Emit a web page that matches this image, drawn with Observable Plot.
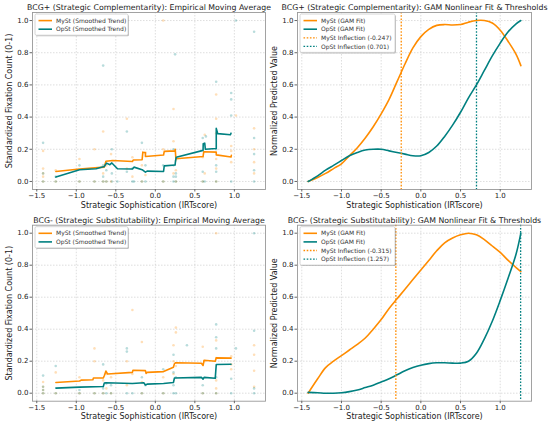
<!DOCTYPE html>
<html><head><meta charset="utf-8">
<script src="https://cdn.jsdelivr.net/npm/d3@7"></script>
<script src="https://cdn.jsdelivr.net/npm/@observablehq/plot@0.6"></script>
<style>
body{margin:0;background:#fff;}
#root{position:relative;width:550px;height:423px;overflow:hidden;font-family:"DejaVu Sans",sans-serif;}
#root svg{position:absolute;}
</style></head><body><div id="root"></div>
<script>
// ---------- data ----------
const xTicks = [-1.5, -1.0, -0.5, 0.0, 0.5, 1.0];
const yTicks = [0.0, 0.2, 0.4, 0.6, 0.8, 1.0];
const xLabel = "Strategic Sophistication (IRTscore)";

// BCG+ empirical scatter
const plusMyStPoints = [[-1.42,0.19],[-1.42,0.08],[-1.42,0.05],[-1.42,0.03],[-1.42,0.0],[-1.26,0.07],[-1.26,0.0],[-0.96,0.14],[-0.96,0.0],[-0.77,0.2],[-0.77,0.0],[-0.66,0.31],[-0.66,0.05],[-0.66,0.0],[-0.62,0.1],[-0.62,0.0],[-0.56,0.17],[-0.56,0.0],[-0.36,0.39],[-0.36,0.08],[-0.29,0.15],[-0.29,0.03],[-0.17,0.1],[-0.17,0.0],[-0.125,0.18],[-0.125,0.04],[0.1,1.0],[0.1,0.2],[0.1,0.0],[0.23,0.45],[0.23,0.25],[0.23,0.05],[0.26,0.13],[0.26,0.07],[0.26,0.0],[0.6,0.15],[0.6,0.0],[0.625,0.29],[0.625,0.05],[0.77,0.54],[0.77,0.39],[0.77,0.3],[0.77,0.14],[0.77,0.08],[0.77,0.0],[0.96,0.22],[0.96,0.19],[0.96,0.12],[1.02,0.41],[1.25,0.33],[1.25,0.2],[1.25,0.12],[1.25,0.05]];
const plusOpStPoints = [[-1.42,0.24],[-1.42,0.05],[-1.42,0.0],[-1.26,0.03],[-1.26,0.0],[-0.96,0.1],[-0.96,0.0],[-0.77,0.0],[-0.66,0.72],[-0.66,0.1],[-0.66,0.03],[-0.66,0.0],[-0.62,0.07],[-0.62,0.0],[-0.55,0.2],[-0.55,0.05],[-0.55,0.0],[-0.48,0.0],[-0.36,0.31],[-0.36,0.06],[-0.29,0.08],[-0.29,0.0],[-0.27,0.0],[-0.17,0.24],[-0.17,0.0],[-0.125,0.1],[-0.125,0.0],[0.1,0.1],[0.1,0.0],[0.25,0.79],[0.23,0.2],[0.23,0.1],[0.23,0.03],[0.23,0.0],[0.26,0.05],[0.26,0.03],[0.26,0.0],[0.6,0.27],[0.6,0.06],[0.6,0.0],[0.64,0.28],[0.625,0.0],[0.77,0.62],[0.77,0.2],[0.77,0.1],[0.77,0.06],[0.77,0.0],[0.96,0.55],[0.96,0.51],[0.96,0.41],[0.96,0.0],[1.02,1.0],[1.25,0.93],[1.25,0.27],[1.25,0.17],[1.25,0.07],[1.25,0.0]];
// BCG+ moving averages
const plusMyStTrend = [[-1.258,0.062],[-0.958,0.077],[-0.646,0.089],[-0.625,0.126],[-0.54,0.13],[-0.29,0.124],[-0.28,0.133],[-0.167,0.135],[-0.158,0.182],[-0.125,0.178],[-0.125,0.155],[0.104,0.164],[0.113,0.187],[0.25,0.19],[0.252,0.2],[0.26,0.141],[0.604,0.155],[0.613,0.185],[0.771,0.182],[0.771,0.165],[0.958,0.152],[0.962,0.162]];
const plusOpStTrend = [[-1.258,0.027],[-0.958,0.073],[-0.75,0.079],[-0.646,0.093],[-0.617,0.114],[-0.575,0.104],[-0.55,0.115],[-0.479,0.079],[-0.29,0.077],[-0.27,0.089],[-0.167,0.073],[-0.125,0.058],[-0.104,0.064],[0.104,0.062],[0.113,0.097],[0.25,0.102],[0.255,0.125],[0.265,0.151],[0.604,0.193],[0.606,0.234],[0.625,0.238],[0.633,0.2],[0.771,0.205],[0.771,0.33],[0.79,0.297],[0.95,0.29],[0.958,0.3]];

// BCG- empirical scatter
const minusMyStPoints = [[-1.42,0.07],[-1.42,0.04],[-1.42,0.02],[-1.42,0.0],[-1.26,0.13],[-1.26,0.0],[-0.96,0.1],[-0.96,0.0],[-0.77,0.28],[-0.77,0.2],[-0.77,0.0],[-0.66,0.08],[-0.66,0.0],[-0.62,0.12],[-0.62,0.03],[-0.56,0.1],[-0.56,0.0],[-0.36,0.2],[-0.36,0.05],[-0.29,0.52],[-0.29,0.12],[-0.17,0.32],[-0.17,0.07],[-0.17,0.0],[0.1,0.1],[0.1,0.0],[0.23,0.3],[0.23,0.2],[0.23,0.12],[0.26,0.41],[0.26,0.38],[0.26,0.17],[0.6,0.29],[0.6,0.0],[0.625,0.2],[0.77,1.0],[0.77,0.33],[0.77,0.22],[0.77,0.08],[0.77,0.03],[0.77,0.0],[0.96,0.23],[0.96,0.18],[0.96,0.15],[1.25,0.3],[1.25,0.24],[1.25,0.14],[1.25,0.04]];
const minusOpStPoints = [[-1.42,0.11],[-1.42,0.04],[-1.42,0.02],[-1.42,0.0],[-1.26,0.17],[-1.26,0.0],[-0.96,0.02],[-0.96,0.0],[-0.77,0.0],[-0.66,0.18],[-0.66,0.03],[-0.66,0.0],[-0.62,0.06],[-0.62,0.0],[-0.56,0.05],[-0.56,0.0],[-0.36,0.28],[-0.36,0.26],[-0.36,0.0],[-0.29,0.0],[-0.17,0.1],[-0.17,0.0],[-0.125,0.05],[0.1,0.15],[0.1,0.0],[0.23,0.24],[0.23,0.13],[0.23,0.05],[0.23,0.0],[0.26,0.1],[0.26,0.0],[0.4,0.3],[0.6,0.05],[0.6,0.0],[0.77,0.43],[0.77,0.35],[0.77,0.28],[0.77,0.1],[0.77,0.0],[0.96,0.09],[0.96,0.0],[1.02,0.28],[1.25,1.0],[1.25,0.39],[1.25,0.03],[1.25,0.0]];
// BCG- moving averages
const minusMyStTrend = [[-1.258,0.067],[-0.958,0.076],[-0.938,0.082],[-0.79,0.084],[-0.783,0.095],[-0.658,0.095],[-0.646,0.109],[-0.625,0.138],[-0.604,0.12],[-0.29,0.13],[-0.283,0.143],[-0.125,0.141],[-0.117,0.124],[-0.104,0.13],[0.104,0.135],[0.229,0.162],[0.242,0.185],[0.258,0.19],[0.583,0.187],[0.604,0.173],[0.617,0.206],[0.758,0.2],[0.771,0.221],[0.958,0.219]];
const minusOpStTrend = [[-1.258,0.032],[-0.958,0.038],[-0.658,0.042],[-0.646,0.063],[-0.625,0.065],[-0.29,0.061],[-0.146,0.065],[-0.125,0.051],[-0.104,0.057],[0.104,0.061],[0.229,0.067],[0.242,0.095],[0.583,0.099],[0.604,0.088],[0.617,0.099],[0.758,0.093],[0.771,0.179],[0.958,0.181]];

// GAM fits (normalized)
const gamX = [-1.42,-1.3,-1.2,-1.1,-1.0,-0.9,-0.8,-0.7,-0.6,-0.5,-0.4,-0.3,-0.2,-0.1,0.0,0.1,0.2,0.3,0.4,0.5,0.6,0.7,0.8,0.9,1.0,1.1,1.2,1.26];
const plusMyStGam = [0.0,0.025,0.05,0.08,0.11,0.16,0.21,0.27,0.34,0.42,0.51,0.62,0.73,0.83,0.9,0.945,0.97,0.975,0.972,0.975,0.99,1.0,1.0,0.985,0.94,0.87,0.79,0.72];
const plusOpStGam = [0.0,0.035,0.07,0.1,0.13,0.16,0.18,0.195,0.2,0.2,0.19,0.18,0.17,0.16,0.16,0.18,0.22,0.28,0.35,0.43,0.52,0.6,0.69,0.78,0.86,0.93,0.98,1.0];
const minusMyStGam = [0.0,0.09,0.16,0.2,0.235,0.27,0.305,0.345,0.4,0.46,0.53,0.59,0.65,0.71,0.77,0.83,0.89,0.94,0.97,0.99,1.0,0.99,0.96,0.92,0.88,0.83,0.785,0.76];
const minusOpStGam = [0.005,0.003,0.0,0.0,0.003,0.01,0.02,0.035,0.05,0.07,0.09,0.115,0.14,0.16,0.175,0.185,0.19,0.19,0.188,0.188,0.2,0.25,0.34,0.45,0.58,0.72,0.87,1.0];
const plusInflection = {MySt: -0.247, OpSt: 0.701};
const minusInflection = {MySt: -0.315, OpSt: 1.257};

// ---------- drawing ----------
const ORANGE = "#ff8c00", TEAL = "#008080";
const FONT = "DejaVu Sans";
const root = document.getElementById("root");

function legendMark(items, w) {
  return (index, scales, values, dim) => {
    const g = d3.create("svg:g")
      .attr("transform", `translate(${dim.marginLeft + 3},${dim.marginTop + 2})`);
    const rowH = 8.6;
    const h = items.length * rowH + 4;
    g.append("rect").attr("x", 1).attr("y", 1).attr("width", w).attr("height", h)
      .attr("fill", "#000").attr("fill-opacity", 0.25).attr("rx", 1.5);
    g.append("rect").attr("width", w).attr("height", h).attr("fill", "#fff")
      .attr("stroke", "#ccc").attr("stroke-width", 0.8).attr("rx", 1.5);
    items.forEach((it, i) => {
      const cy = 2.3 + rowH * (i + 0.5);
      g.append("line").attr("x1", 3.5).attr("x2", 17).attr("y1", cy).attr("y2", cy)
        .attr("stroke", it.color).attr("stroke-width", it.dash ? 1.3 : 1.6)
        .attr("stroke-dasharray", it.dash || null);
      g.append("text").attr("x", 21).attr("y", cy).attr("dy", "0.35em")
        .attr("text-anchor", "start")
        .attr("font-size", 6).attr("font-family", FONT).attr("fill", "#333").text(it.label);
    });
    return g.node();
  };
}

function panel({left, top, height, ml, mr, mt, mb, title, ylabel, marks, legend, legendW}) {
  const chart = Plot.plot({
    width: 275, height, marginLeft: ml, marginRight: mr, marginTop: mt, marginBottom: mb,
    style: {fontFamily: FONT, color: "#222", background: "transparent", overflow: "visible"},
    x: {domain: [-1.554, 1.394]},
    y: {domain: [-0.05, 1.05]},
    marks: [
      Plot.gridX(xTicks, {stroke: "#bbb", strokeOpacity: 0.7, strokeDasharray: "1.5,1.5", strokeWidth: 0.7}),
      Plot.gridY(yTicks, {stroke: "#bbb", strokeOpacity: 0.7, strokeDasharray: "1.5,1.5", strokeWidth: 0.7}),
      ...marks,
      Plot.frame({stroke: "#999", strokeWidth: 0.9}),
      Plot.axisX(xTicks, {tickFormat: d3.format(".1f"), tickSize: 2.5, tickPadding: 1.5, fontSize: 7, label: null, stroke: "#666"}),
      Plot.axisY(yTicks, {tickFormat: d3.format(".1f"), tickSize: 2.5, tickPadding: 1.5, fontSize: 7, label: null, stroke: "#666"}),
      Plot.text([title], {text: d => d, frameAnchor: "top", dy: -2.2, lineAnchor: "bottom", textAnchor: "middle", fontSize: 7.8, fill: "#222"}),
      Plot.text([xLabel], {text: d => d, frameAnchor: "bottom", dy: 15.5, lineAnchor: "middle", textAnchor: "middle", fontSize: 8, fill: "#222"}),
      Plot.text([ylabel], {text: d => d, frameAnchor: "left", dx: -23, rotate: -90, lineAnchor: "middle", textAnchor: "middle", fontSize: 8, fill: "#222"}),
      legendMark(legend, legendW)
    ]
  });
  chart.style.left = left + "px";
  chart.style.top = top + "px";
  root.appendChild(chart);
}

function empiricalMarks(myPts, opPts, myTrend, opTrend) {
  return [
    Plot.dot(myPts, {x: d => d[0], y: d => d[1], r: 1.3, fill: ORANGE, fillOpacity: 0.28}),
    Plot.dot(opPts, {x: d => d[0], y: d => d[1], r: 1.3, fill: TEAL, fillOpacity: 0.28}),
    Plot.line(myTrend, {x: d => d[0], y: d => d[1], stroke: ORANGE, strokeWidth: 1.6}),
    Plot.line(opTrend, {x: d => d[0], y: d => d[1], stroke: TEAL, strokeWidth: 1.6})
  ];
}
function gamMarks(myGam, opGam, infl) {
  return [
    Plot.line(gamX, {x: d => d, y: (d, i) => myGam[i], stroke: ORANGE, strokeWidth: 1.6, curve: "catmull-rom"}),
    Plot.line(gamX, {x: d => d, y: (d, i) => opGam[i], stroke: TEAL, strokeWidth: 1.6, curve: "catmull-rom"}),
    Plot.ruleX([infl.MySt], {stroke: ORANGE, strokeWidth: 1.3, strokeDasharray: "1.6,1.6"}),
    Plot.ruleX([infl.OpSt], {stroke: TEAL, strokeWidth: 1.3, strokeDasharray: "1.6,1.6"})
  ];
}
const empLegend = [
  {label: "MySt (Smoothed Trend)", color: ORANGE},
  {label: "OpSt (Smoothed Trend)", color: TEAL}
];
const gamLegend = (infl) => [
  {label: "MySt (GAM Fit)", color: ORANGE},
  {label: "OpSt (GAM Fit)", color: TEAL},
  {label: `MySt Inflection (${infl.MySt.toFixed(3)})`, color: ORANGE, dash: "1.6,1.6"},
  {label: `OpSt Inflection (${infl.OpSt.toFixed(3)})`, color: TEAL, dash: "1.6,1.6"}
];

panel({left: 0, top: 0, height: 212, ml: 32, mr: 10, mt: 12, mb: 23,
  title: "BCG+ (Strategic Complementarity): Empirical Moving Average",
  ylabel: "Standardized Fixation Count (0-1)",
  marks: empiricalMarks(plusMyStPoints, plusOpStPoints, plusMyStTrend, plusOpStTrend),
  legend: empLegend, legendW: 93});
panel({left: 275, top: 0, height: 212, ml: 22, mr: 19, mt: 12, mb: 23,
  title: "BCG+ (Strategic Complementarity): GAM Nonlinear Fit & Thresholds",
  ylabel: "Normalized Predicted Value",
  marks: gamMarks(plusMyStGam, plusOpStGam, plusInflection),
  legend: gamLegend(plusInflection), legendW: 95});
panel({left: 0, top: 212, height: 211, ml: 32, mr: 10, mt: 12.7, mb: 22.3,
  title: "BCG- (Strategic Substitutability): Empirical Moving Average",
  ylabel: "Standardized Fixation Count (0-1)",
  marks: empiricalMarks(minusMyStPoints, minusOpStPoints, minusMyStTrend, minusOpStTrend),
  legend: empLegend, legendW: 93});
panel({left: 275, top: 212, height: 211, ml: 22, mr: 19, mt: 12.7, mb: 22.3,
  title: "BCG- (Strategic Substitutability): GAM Nonlinear Fit & Thresholds",
  ylabel: "Normalized Predicted Value",
  marks: gamMarks(minusMyStGam, minusOpStGam, minusInflection),
  legend: gamLegend(minusInflection), legendW: 95});
</script></body></html>
